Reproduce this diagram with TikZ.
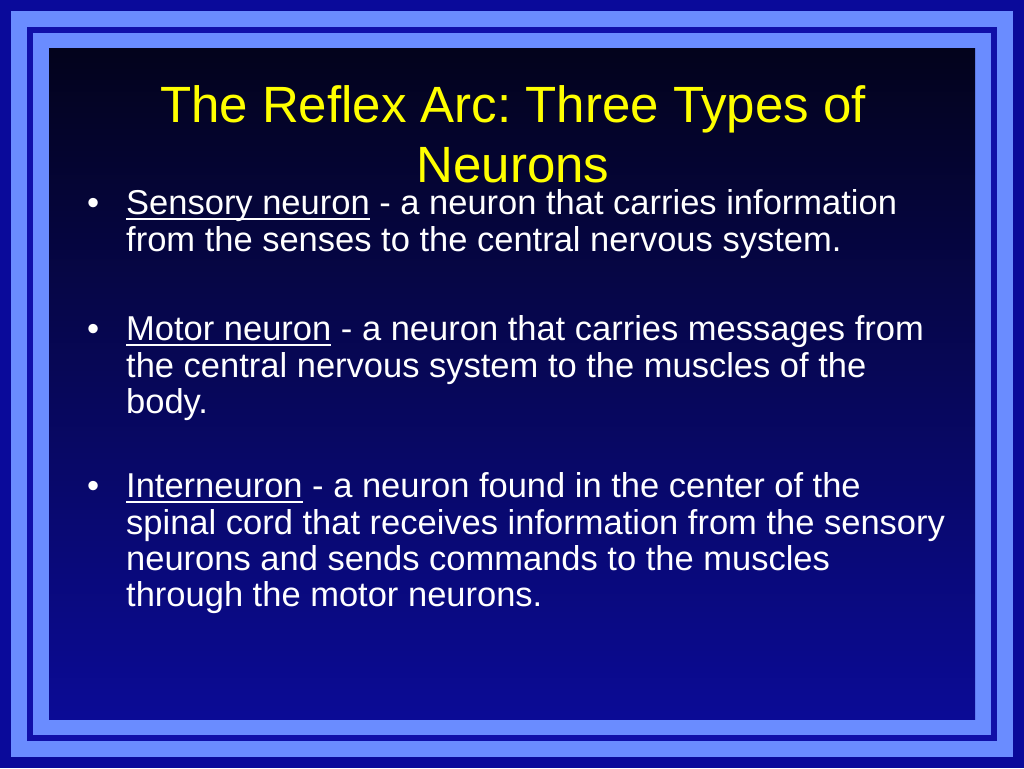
\documentclass[tikz,border=0pt]{standalone}
\usepackage{fontspec}
\setmainfont{Liberation Sans}
\frenchspacing
\newcommand\myul[1]{\setbox0\hbox{#1}\rlap{\vrule width \wd0 height -3.6pt depth 5.8pt}\box0}
\definecolor{outerblue}{HTML}{0A0A9A}
\definecolor{lightband}{HTML}{6A8CFF}
\definecolor{midband}{HTML}{1010A8}
\definecolor{topdark}{HTML}{03031C}
\definecolor{botblue}{HTML}{0B0B96}
\definecolor{titleyellow}{HTML}{FFFF00}
\tikzset{
  body/.style={anchor=base west,text=white,font=\fontsize{34.5}{37}\selectfont,inner sep=0pt},
  bul/.style={anchor=base west,text=white,font=\fontsize{34.5}{37}\selectfont,inner sep=0pt},
  ttl/.style={anchor=base,text=titleyellow,font=\fontsize{51}{60}\selectfont,inner sep=0pt}
}
\begin{document}
\begin{tikzpicture}[x=1pt,y=-1pt]
\useasboundingbox (0,0) rectangle (1024,768);
\fill[outerblue] (0,0) rectangle (1024,768);
\fill[lightband] (11,11) rectangle (1013,757);
\fill[midband] (27,27) rectangle (997,741);
\fill[lightband] (33,33) rectangle (991,735);
\shade[top color=topdark,bottom color=botblue] (49,49) rectangle (975,719);
\node[ttl] (t1) at (513,122) {The Reflex Arc: Three Types of};
\node[ttl] (t2) at (513,182) {Neurons};
\node[bul] (b1) at (87,214) {•};
\node[body] (s1) at (126,214) {\myul{Sensory neuron}\ - a neuron that carries information};
\node[body] (s2) at (126,251) {from the senses to the central nervous system.};
\node[bul] (b2) at (87,340) {•};
\node[body] (m1) at (126,340) {\myul{Motor neuron}\ - a neuron that carries messages from};
\node[body] (m2) at (126,377) {the central nervous system to the muscles of the};
\node[body] (m3) at (126,413) {body.};
\node[bul] (b3) at (87,497) {•};
\node[body] (i1) at (126,497) {\myul{Interneuron}\ - a neuron found in the center of the};
\node[body] (i2) at (126,534) {spinal cord that receives information from the sensory};
\node[body] (i3) at (126,570) {neurons and sends commands to the muscles};
\node[body] (i4) at (126,606) {through the motor neurons.};
\end{tikzpicture}
\end{document}
